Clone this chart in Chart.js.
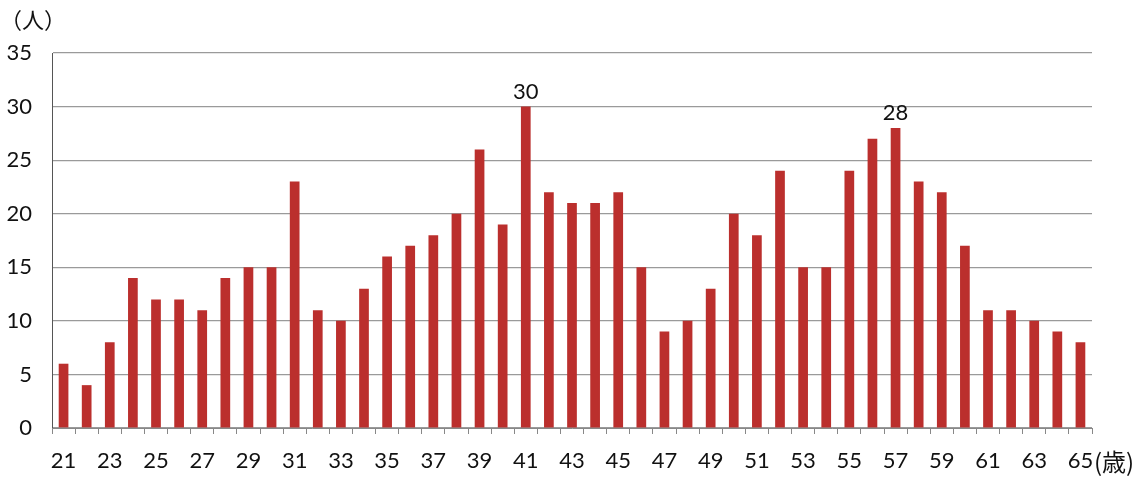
<!DOCTYPE html>
<html>
<head>
<meta charset="utf-8">
<script src="https://cdn.jsdelivr.net/npm/chart.js@4"></script>
<style>
    html, body { margin: 0; padding: 0; background: #fff; }
    #wrap { width: 1147px; height: 477px; }
</style>
</head>
<body>
<div id="wrap"><canvas id="chart1"></canvas></div>
<script>
const ages = ['21', '22', '23', '24', '25', '26', '27', '28', '29', '30',
    '31', '32', '33', '34', '35', '36', '37', '38', '39', '40',
    '41', '42', '43', '44', '45', '46', '47', '48', '49', '50',
    '51', '52', '53', '54', '55', '56', '57', '58', '59', '60',
    '61', '62', '63', '64', '65'];
const counts = [6, 4, 8, 14, 12, 12, 11, 14, 15, 15,
    23, 11, 10, 13, 16, 17, 18, 20, 26, 19,
    30, 22, 21, 21, 22, 15, 9, 10, 13, 20,
    18, 24, 15, 15, 24, 27, 28, 23, 22, 17,
    11, 11, 10, 9, 8];
const labelled = ['41', '57'];
const yUnit = '（人）';
const xUnit = '(歳)';

const fontFamily = "Lato, 'Noto Sans CJK JP', sans-serif";

const extras = {
    id: 'extras',
    afterDatasetsDraw(chart) {
        const ctx = chart.ctx;
        const meta = chart.getDatasetMeta(0);
        ctx.save();
        ctx.fillStyle = '#111';
        ctx.font = '22px ' + fontFamily;
        ctx.textAlign = 'center';
        ctx.textBaseline = 'bottom';
        ages.forEach((a, i) => {
            if (labelled.includes(a)) {
                const bar = meta.data[i];
                ctx.fillText(String(counts[i]), bar.x, bar.y - 4);
            }
        });
        // unit labels
        const y = chart.scales.y;
        const x = chart.scales.x;
        ctx.textAlign = 'left';
        ctx.textBaseline = 'middle';
        ctx.fillText(yUnit, 0, y.top - 32);
        ctx.font = "24px 'Noto Sans CJK JP', sans-serif";
        ctx.fillText(xUnit, x.right + 2, x.top + 34);
        ctx.restore();
    }
};

const ctx1 = document.getElementById('chart1').getContext('2d');
const chart1 = new Chart(ctx1, {
    type: 'bar',
    data: {
        labels: ages,
        datasets: [{
            data: counts,
            backgroundColor: '#bb2f2d',
            borderWidth: 0,
            barPercentage: 0.42,
            categoryPercentage: 1.0
        }]
    },
    options: {
        responsive: true,
        maintainAspectRatio: false,
        animation: false,
        layout: {
            padding: { top: 53, right: 55, left: 2, bottom: 0 }
        },
        plugins: {
            legend: { display: false },
            tooltip: { enabled: false }
        },
        scales: {
            y: {
                min: 0,
                max: 35,
                ticks: {
                    stepSize: 5,
                    color: '#111',
                    font: { family: fontFamily, size: 22 },
                    padding: 20
                },
                grid: {
                    color: '#9a9a9a',
                    lineWidth: 1.2,
                    tickLength: 0
                },
                border: { color: '#555', width: 1 },
                afterFit(scale) { scale.width = 50; }
            },
            x: {
                ticks: {
                    autoSkip: false,
                    maxRotation: 0,
                    color: '#111',
                    font: { family: fontFamily, size: 22 },
                    padding: 14,
                    callback: function (v, i) { return i % 2 === 0 ? ages[i] : ''; }
                },
                grid: {
                    offset: true,
                    drawOnChartArea: false,
                    color: '#888',
                    tickLength: 6
                },
                border: { color: '#888' },
                afterFit(scale) { scale.height = 49; }
            }
        }
    },
    plugins: [extras]
});
</script>
</body>
</html>
